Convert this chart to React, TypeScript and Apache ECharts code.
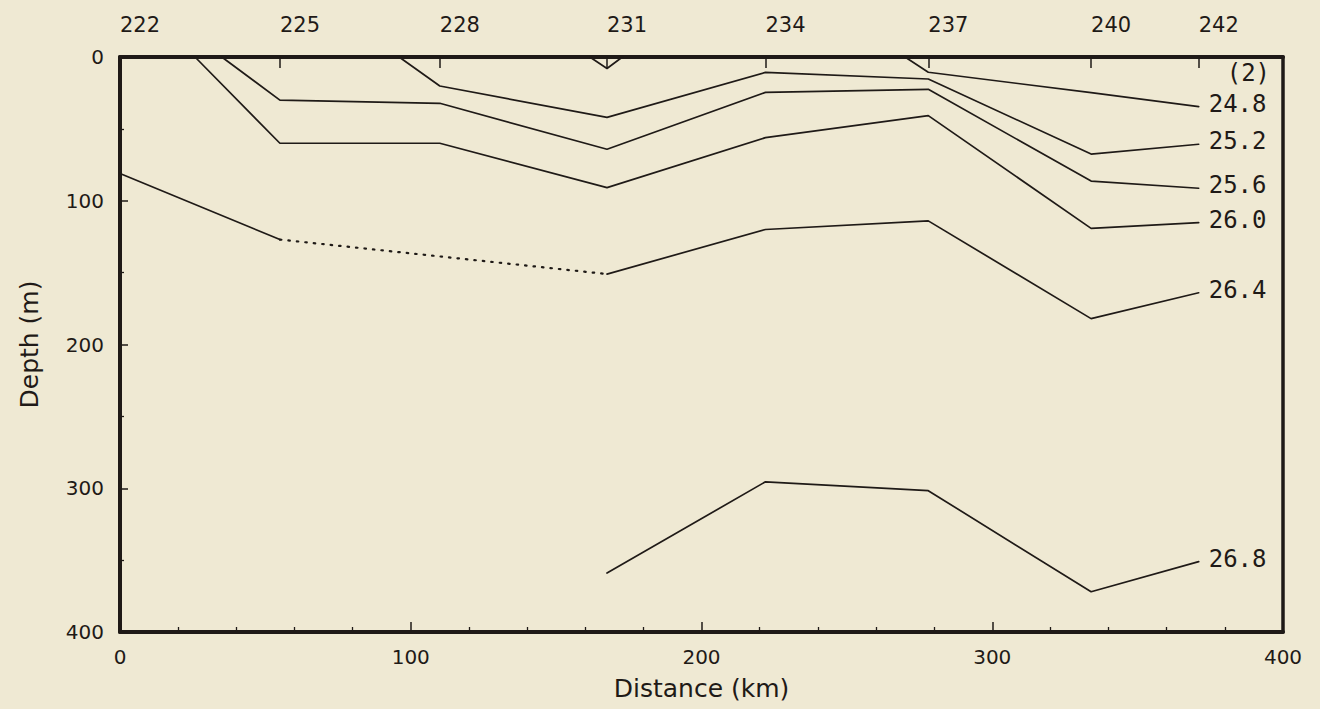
import React, { useEffect, useRef } from "react";
import * as echarts from "echarts";

// Stations along the section (km) and their numbers
const stationKm = [0, 55, 110, 167.5, 222, 278, 334, 371];
const stationLabels = ["222", "225", "228", "231", "234", "237", "240", "242"];

// Contours of sigma-t: [distance km, depth m]
const c248: number[][] = [[270, 0], [278, 10.6], [334, 24.8], [371, 34.5]];
const c252: number[][] = [[96, 0], [110, 20.2], [167.5, 42], [222, 10.7], [278, 15.3], [334, 67.5], [371, 60.7]];
const c256: number[][] = [[35, 0], [55, 30], [110, 32.2], [167.5, 64.2], [222, 24.6], [278, 22.5], [334, 86.3], [371, 91.3]];
const c260: number[][] = [[25.8, 0], [55, 60], [110, 60], [167.5, 90.9], [222, 56.1], [278, 40.8], [334, 119.2], [371, 115.2]];
const c264a: number[][] = [[0, 81], [55, 127]];
const c264dotted: number[][] = [[55, 127], [167.5, 151]];
const c264b: number[][] = [[167.5, 151], [222, 120], [278, 114], [334, 182], [371, 164]];
const c268: number[][] = [[167.5, 359], [222, 295.5], [278, 301.7], [334, 372], [371, 351]];
const smallV: number[][] = [[161.6, 0], [167.5, 8], [172.8, 0]];
const notePoint: number[][] = [[371, 13]];
const noteText = "(2)";

const contourNames = ["24.8", "25.2", "25.6", "26.0", "26.4", "26.8"];

const INK = "#1f1a17";
const BG = "#efe9d3";
const SANS = "DejaVu Sans";
const MONO = "DejaVu Sans Mono";

function lineSeries(data: number[][], label: string | null, dotted = false, distance = 10, hidden = false) {
  return {
    type: "line",
    data,
    xAxisIndex: 0,
    yAxisIndex: 0,
    showSymbol: false,
    symbol: "none",
    silent: true,
    clip: false,
    lineStyle: {
      color: INK,
      width: hidden ? 0 : dotted ? 2.2 : 1.7,
      opacity: hidden ? 0 : 1,
      type: dotted ? [1.5, 7] : "solid",
      cap: "round",
    },
    endLabel: label
      ? {
          show: true,
          formatter: label,
          distance,
          offset: [0, -3],
          fontFamily: MONO,
          fontSize: 24,
          color: INK,
        }
      : { show: false },
  };
}

export default function App() {
  const ref = useRef<HTMLDivElement>(null);

  useEffect(() => {
    document.body.style.margin = "0";
    document.body.style.background = BG;
    if (!ref.current) return;
    const chart = echarts.init(ref.current, null, { renderer: "svg" });

    const axisLineStyle = { color: INK, width: 4 };

    chart.setOption({
      animation: false,
      backgroundColor: BG,
      grid: { left: 120, right: 37, top: 57, bottom: 77, containLabel: false },
      xAxis: [
        {
          type: "value",
          position: "bottom",
          min: 0,
          max: 400,
          interval: 100,
          axisLine: { show: true, onZero: false, lineStyle: axisLineStyle },
          axisTick: { show: true, inside: true, length: 10, lineStyle: { color: INK, width: 1.5 } },
          minorTick: { show: true, splitNumber: 5, length: 5, lineStyle: { color: INK, width: 1.3 } },
          splitLine: { show: false },
          minorSplitLine: { show: false },
          axisLabel: { margin: 15, fontSize: 20, color: INK, fontFamily: SANS },
          name: "Distance (km)",
          nameLocation: "middle",
          nameGap: 44,
          nameTextStyle: { fontSize: 25, color: INK, fontFamily: SANS },
        },
        {
          type: "value",
          position: "top",
          min: 0,
          max: 400,
          axisLine: { show: true, onZero: false, lineStyle: axisLineStyle },
          axisTick: {
            show: true,
            inside: true,
            length: 11,
            customValues: stationKm,
            lineStyle: { color: INK, width: 1.5 },
          },
          splitLine: { show: false },
          axisLabel: {
            customValues: stationKm,
            formatter: (v: number) => {
              const i = stationKm.indexOf(v);
              return i >= 0 ? stationLabels[i] : "";
            },
            align: "left",
            margin: 22,
            fontSize: 21,
            color: INK,
            fontFamily: SANS,
          },
        },
      ],
      yAxis: [
        {
          type: "value",
          inverse: true,
          min: 0,
          max: 400,
          interval: 100,
          position: "left",
          axisLine: { show: true, onZero: false, lineStyle: axisLineStyle },
          axisTick: { show: true, inside: true, length: 8, lineStyle: { color: INK, width: 1.5 } },
          minorTick: { show: true, splitNumber: 2, length: 4, lineStyle: { color: INK, width: 1.3 } },
          splitLine: { show: false },
          minorSplitLine: { show: false },
          axisLabel: { margin: 16, fontSize: 20, color: INK, fontFamily: SANS },
          name: "Depth (m)",
          nameLocation: "middle",
          nameGap: 78,
          nameTextStyle: { fontSize: 25, color: INK, fontFamily: SANS },
        },
        {
          type: "value",
          inverse: true,
          min: 0,
          max: 400,
          position: "right",
          axisLine: { show: true, onZero: false, lineStyle: { color: INK, width: 3.5 } },
          axisTick: { show: false },
          axisLabel: { show: false },
          splitLine: { show: false },
        },
      ],
      series: [
        lineSeries(c248, contourNames[0]),
        lineSeries(c252, contourNames[1]),
        lineSeries(c256, contourNames[2]),
        lineSeries(c260, contourNames[3]),
        lineSeries(c264a, null),
        lineSeries(c264dotted, null, true),
        lineSeries(c264b, contourNames[4]),
        lineSeries(c268, contourNames[5]),
        lineSeries(smallV, null),
        lineSeries(notePoint, noteText, false, 28, true),
      ],
    });

    return () => chart.dispose();
  }, []);

  return <div ref={ref} style={{ width: 1320, height: 709 }} />;
}
